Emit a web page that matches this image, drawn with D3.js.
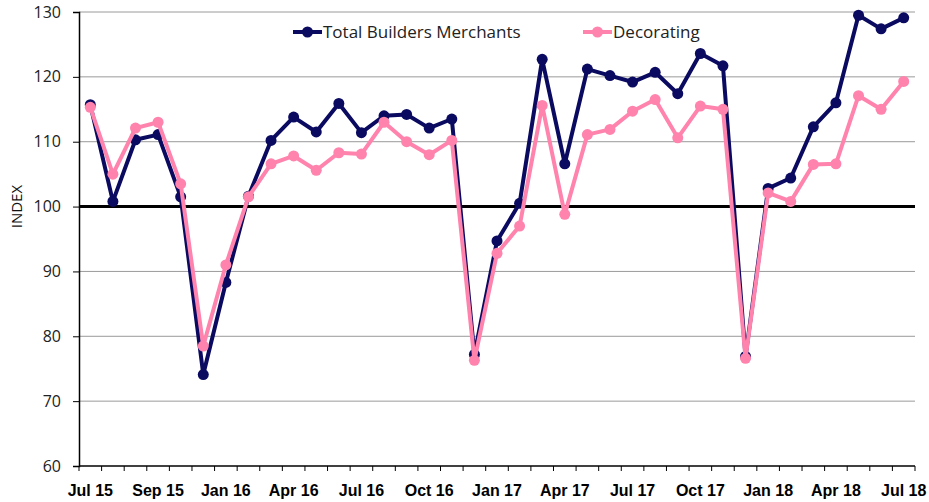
<!DOCTYPE html>
<html>
<head>
<meta charset="utf-8">
<script src="https://cdnjs.cloudflare.com/ajax/libs/d3/7.8.5/d3.min.js"></script>
<style>
    body { margin: 0; background: #fff; }
    .tick-label { font-family: "Open Sans", Lato, sans-serif; font-size: 16px; fill: #222; }
    .y-title { font-family: "Open Sans", Lato, sans-serif; font-size: 15px; fill: #111; }
    .x-label { font-family: "Liberation Sans Narrow", "Liberation Sans", sans-serif; font-weight: bold; font-size: 16px; fill: #000; }
    .legend-text { font-family: "Open Sans", Lato, sans-serif; font-size: 17px; fill: #222; }
</style>
</head>
<body>
<div id="chart"></div>
<script>
// monthly, Jul 15 .. Jul 18
var months = ["Jul 15", "Aug 15", "Sep 15", "Oct 15", "Nov 15", "Dec 15",
    "Jan 16", "Feb 16", "Mar 16", "Apr 16", "May 16", "Jun 16",
    "Jul 16", "Aug 16", "Sep 16", "Oct 16", "Nov 16", "Dec 16",
    "Jan 17", "Feb 17", "Mar 17", "Apr 17", "May 17", "Jun 17",
    "Jul 17", "Aug 17", "Sep 17", "Oct 17", "Nov 17", "Dec 17",
    "Jan 18", "Feb 18", "Mar 18", "Apr 18", "May 18", "Jun 18", "Jul 18"];

var totalBuilders = [115.7, 100.8, 110.3, 111.1, 101.5, 74.1,
    88.3, 101.6, 110.2, 113.8, 111.5, 115.9,
    111.4, 114.0, 114.2, 112.1, 113.5, 77.2,
    94.7, 100.5, 122.7, 106.6, 121.2, 120.2,
    119.2, 120.7, 117.4, 123.6, 121.7, 76.9,
    102.8, 104.4, 112.3, 116.0, 129.5, 127.4, 129.1];

var decorating = [115.3, 105.0, 112.1, 113.0, 103.5, 78.5,
    91.0, 101.5, 106.6, 107.8, 105.6, 108.3,
    108.1, 113.0, 110.0, 108.0, 110.2, 76.3,
    92.8, 97.0, 115.6, 98.8, 111.1, 111.9,
    114.7, 116.5, 110.6, 115.5, 115.0, 76.6,
    102.1, 100.8, 106.5, 106.6, 117.1, 115.0, 119.3];

// tick labels as printed on the axis (every third month)
var xTickLabels = ["Jul 15", "Sep 15", "Jan 16", "Apr 16", "Jul 16", "Oct 16", "Jan 17",
    "Apr 17", "Jul 17", "Oct 17", "Jan 18", "Apr 18", "Jul 18"];
var yTicks = [60, 70, 80, 90, 100, 110, 120, 130];

var seriesNames = ["Total Builders Merchants", "Decorating"];
var seriesColors = ["#0a0a60", "#ff83ac"];

var width = 929, height = 502;
var margin = {top: 12, right: 14, bottom: 36, left: 79};

var svg = d3.select("#chart").append("svg")
    .attr("width", width)
    .attr("height", height);

var innerW = width - margin.left - margin.right;
var innerH = height - margin.top - margin.bottom;

var g = svg.append("g")
    .attr("transform", "translate(" + margin.left + "," + margin.top + ")");

var x = d3.scaleBand()
    .domain(months)
    .range([0, innerW]);

var y = d3.scaleLinear()
    .domain([60, 130])
    .range([innerH, 0]);

function cx(m) {
    return x(m) + x.bandwidth() / 2;
}

// gridlines
g.append("g")
    .attr("class", "grid")
    .selectAll("line")
    .data(yTicks.filter(function (d) { return d !== 60 && d !== 100; }))
    .enter().append("line")
    .attr("x1", 0)
    .attr("x2", innerW)
    .attr("y1", function (d) { return y(d); })
    .attr("y2", function (d) { return y(d); })
    .attr("stroke", "#9a9a9a")
    .attr("stroke-width", 1);

// y axis
var yAxis = g.append("g")
    .call(d3.axisLeft(y).tickValues(yTicks).tickSize(6).tickPadding(12));
yAxis.select(".domain").attr("stroke", "#000").attr("stroke-width", 1.5);
yAxis.selectAll(".tick line").attr("stroke", "#000");
yAxis.selectAll(".tick text").attr("class", "tick-label");

// x axis, one tick per month boundary
var xAxis = g.append("g")
    .attr("transform", "translate(0," + innerH + ")");
xAxis.append("line")
    .attr("x1", 0).attr("x2", innerW)
    .attr("stroke", "#000").attr("stroke-width", 1.5);
xAxis.selectAll(".mtick")
    .data(months.concat(["end"]))
    .enter().append("line")
    .attr("class", "mtick")
    .attr("x1", function (d, i) { return i * x.step(); })
    .attr("x2", function (d, i) { return i * x.step(); })
    .attr("y1", 0).attr("y2", 5)
    .attr("stroke", "#000");
xAxis.selectAll(".x-label")
    .data(xTickLabels)
    .enter().append("text")
    .attr("class", "x-label")
    .attr("x", function (d, i) { return cx(months[i * 3]); })
    .attr("y", 30)
    .attr("text-anchor", "middle")
    .text(function (d) { return d; });

// 100 baseline
g.append("line")
    .attr("x1", 0).attr("x2", innerW)
    .attr("y1", y(100)).attr("y2", y(100))
    .attr("stroke", "#000")
    .attr("stroke-width", 3);

// y label
svg.append("text")
    .attr("class", "y-title")
    .attr("transform", "translate(22," + (margin.top + y(100)) + ") rotate(-90)")
    .attr("text-anchor", "middle")
    .text("INDEX");

// lines
var line = d3.line()
    .x(function (d) { return cx(d.m); })
    .y(function (d) { return y(d.v); });

[totalBuilders, decorating].forEach(function (vals, k) {
    var pts = vals.map(function (v, i) { return {m: months[i], v: v}; });
    var sg = g.append("g");
    sg.append("path")
        .datum(pts)
        .attr("fill", "none")
        .attr("stroke", seriesColors[k])
        .attr("stroke-width", 4)
        .attr("stroke-linejoin", "round")
        .attr("d", line);
    sg.selectAll("circle")
        .data(pts)
        .enter().append("circle")
        .attr("cx", function (d) { return cx(d.m); })
        .attr("cy", function (d) { return y(d.v); })
        .attr("r", 5.5)
        .attr("fill", seriesColors[k]);
});

// legend
var legendX = [293, 583];
var legend = svg.append("g");
seriesNames.forEach(function (name, k) {
    var lg = legend.append("g").attr("transform", "translate(" + legendX[k] + ",32)");
    lg.append("line")
        .attr("x1", 0).attr("x2", 29)
        .attr("stroke", seriesColors[k])
        .attr("stroke-width", 4);
    lg.append("circle")
        .attr("cx", 14.5).attr("r", 5.5)
        .attr("fill", seriesColors[k]);
    lg.append("text")
        .attr("class", "legend-text")
        .attr("x", 30)
        .attr("dy", "0.35em")
        .text(name);
});
</script>
</body>
</html>
